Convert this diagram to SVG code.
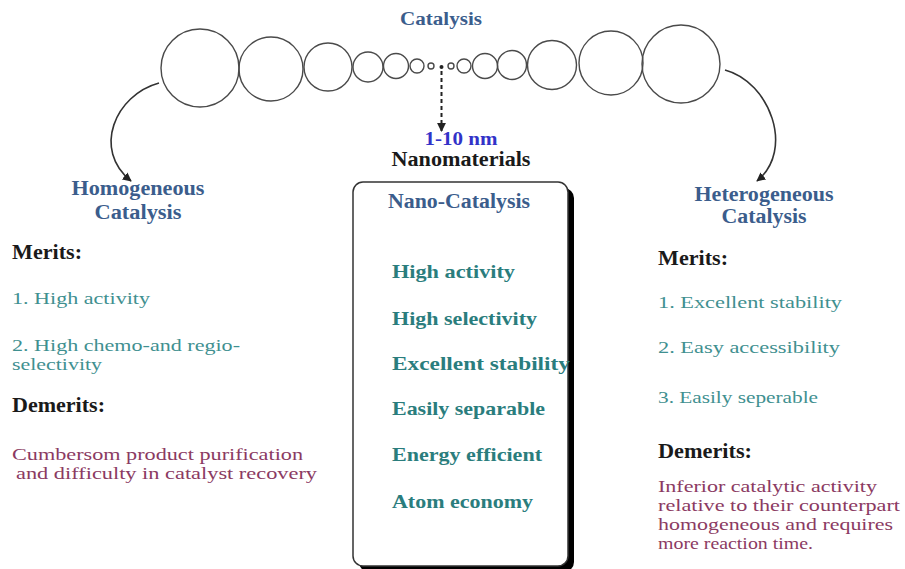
<svg xmlns="http://www.w3.org/2000/svg" width="905" height="569" viewBox="0 0 905 569">
<defs>
<style>
text{font-family:"Liberation Serif","Times New Roman",serif;font-size:17px}
.hd{fill:#3b5d8c;font-weight:bold;font-size:20px}
.blk{fill:#1a1a1a;font-weight:bold;font-size:20px}
.tl{fill:#3f9090}
.tc{fill:#2a7d7d;font-weight:bold;font-size:19px}
.mr{fill:#8b3a62}
.nm{fill:#3232c8;font-weight:bold;font-size:19px}
.c{fill:none;stroke:#4a4a4a;stroke-width:1.4}
.arr{fill:none;stroke:#333;stroke-width:1.6}
</style>
<marker id="ah" viewBox="0 0 10 10" refX="9" refY="5" markerWidth="9" markerHeight="9" markerUnits="userSpaceOnUse" orient="auto">
<path d="M0,0 L10,5 L0,10 z" fill="#222"/>
</marker>
</defs>
<rect width="905" height="569" fill="#fff"/>

<g id="catalysis-chain">
<text class="hd" x="441" y="25" text-anchor="middle" style="font-size:18px" textLength="82" lengthAdjust="spacingAndGlyphs">Catalysis</text>
<circle class="c" cx="200" cy="68" r="39"/>
<circle class="c" cx="271" cy="69" r="32"/>
<circle class="c" cx="328" cy="67" r="24"/>
<circle class="c" cx="368" cy="67" r="15"/>
<circle class="c" cx="396" cy="66" r="12.5"/>
<circle class="c" cx="417" cy="66" r="7"/>
<circle class="c" cx="431" cy="66" r="3"/>
<circle cx="441.5" cy="67" r="2" fill="#222"/>
<circle class="c" cx="451" cy="66" r="3"/>
<circle class="c" cx="464" cy="66" r="7"/>
<circle class="c" cx="485" cy="66" r="12.5"/>
<circle class="c" cx="512" cy="65" r="14.5"/>
<circle class="c" cx="552" cy="65" r="24.5"/>
<circle class="c" cx="611" cy="63" r="32"/>
<circle class="c" cx="681" cy="64" r="39"/>
</g>

<g id="connectors">
<path class="arr" d="M159,83 C115,95 92,150 131,181" marker-end="url(#ah)"/>
<path class="arr" d="M725,70 C770,82 795,150 757,181" marker-end="url(#ah)"/>
<path d="M441.5,71 L441.5,131" fill="none" stroke="#222" stroke-width="2" stroke-dasharray="4,3" marker-end="url(#ah)"/>
</g>

<g id="homogeneous">
<text class="hd" x="138" y="195" text-anchor="middle" textLength="133" lengthAdjust="spacingAndGlyphs">Homogeneous</text>
<text class="hd" x="138" y="219" text-anchor="middle" textLength="87" lengthAdjust="spacingAndGlyphs">Catalysis</text>
<text class="blk" x="12" y="259" textLength="70" lengthAdjust="spacingAndGlyphs">Merits:</text>
<text class="tl" x="12" y="304" textLength="138" lengthAdjust="spacingAndGlyphs">1. High activity</text>
<text class="tl" x="12" y="351" textLength="228" lengthAdjust="spacingAndGlyphs">2. High chemo-and regio-</text>
<text class="tl" x="12" y="370" textLength="90" lengthAdjust="spacingAndGlyphs">selectivity</text>
<text class="blk" x="12" y="412" textLength="93" lengthAdjust="spacingAndGlyphs">Demerits:</text>
<text class="mr" x="12" y="460" textLength="291" lengthAdjust="spacingAndGlyphs">Cumbersom product purification</text>
<text class="mr" x="16" y="479" textLength="301" lengthAdjust="spacingAndGlyphs">and difficulty in catalyst recovery</text>
</g>

<g id="nano">
<text class="nm" x="461" y="145" text-anchor="middle" textLength="73" lengthAdjust="spacingAndGlyphs">1-10 nm</text>
<text class="blk" x="461" y="166" text-anchor="middle" textLength="139" lengthAdjust="spacingAndGlyphs">Nanomaterials</text>
<rect x="359" y="188" width="215" height="384" rx="10" fill="#000"/>
<rect x="353" y="182" width="215" height="384" rx="10" fill="#fff" stroke="#333" stroke-width="1.5"/>
<text class="hd" x="388" y="208" textLength="142" lengthAdjust="spacingAndGlyphs">Nano-Catalysis</text>
<text class="tc" x="392" y="278" textLength="123" lengthAdjust="spacingAndGlyphs">High activity</text>
<text class="tc" x="392" y="325" textLength="145" lengthAdjust="spacingAndGlyphs">High selectivity</text>
<text class="tc" x="392" y="370" textLength="178" lengthAdjust="spacingAndGlyphs">Excellent stability</text>
<text class="tc" x="392" y="415" textLength="153" lengthAdjust="spacingAndGlyphs">Easily separable</text>
<text class="tc" x="392" y="461" textLength="150" lengthAdjust="spacingAndGlyphs">Energy efficient</text>
<text class="tc" x="392" y="508" textLength="141" lengthAdjust="spacingAndGlyphs">Atom economy</text>
</g>

<g id="heterogeneous">
<text class="hd" x="764" y="201" text-anchor="middle" textLength="139" lengthAdjust="spacingAndGlyphs">Heterogeneous</text>
<text class="hd" x="764" y="223" text-anchor="middle" textLength="85" lengthAdjust="spacingAndGlyphs">Catalysis</text>
<text class="blk" x="658" y="265" textLength="70" lengthAdjust="spacingAndGlyphs">Merits:</text>
<text class="tl" x="658" y="308" textLength="184" lengthAdjust="spacingAndGlyphs">1. Excellent stability</text>
<text class="tl" x="658" y="353" textLength="182" lengthAdjust="spacingAndGlyphs">2. Easy accessibility</text>
<text class="tl" x="658" y="403" textLength="160" lengthAdjust="spacingAndGlyphs">3. Easily seperable</text>
<text class="blk" x="658" y="458" textLength="94" lengthAdjust="spacingAndGlyphs">Demerits:</text>
<text class="mr" x="658" y="492" textLength="219" lengthAdjust="spacingAndGlyphs">Inferior catalytic activity</text>
<text class="mr" x="658" y="511" textLength="242" lengthAdjust="spacingAndGlyphs">relative to their counterpart</text>
<text class="mr" x="658" y="530" textLength="235" lengthAdjust="spacingAndGlyphs">homogeneous and requires</text>
<text class="mr" x="658" y="549" textLength="155" lengthAdjust="spacingAndGlyphs">more reaction time.</text>
</g>
</svg>
